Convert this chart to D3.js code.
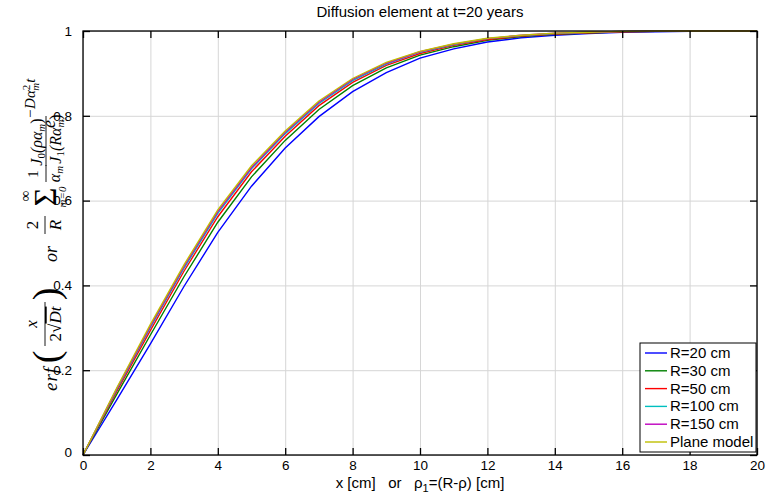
<!DOCTYPE html>
<html>
<head>
<meta charset="utf-8">
<script src="https://cdn.jsdelivr.net/npm/d3@7"></script>
<style>
  body { margin: 0; background: #fff; }
  text { font-family: "Liberation Sans", Arial, sans-serif; }
</style>
</head>
<body>
<div id="container"></div>
<script>
const xValues = [0, 1, 2, 3, 4, 5, 6, 7, 8, 9, 10, 11, 12, 13, 14, 15, 16, 17, 18, 19, 20];
const r20 = [0, 0.130, 0.262, 0.398, 0.525, 0.634, 0.724, 0.798, 0.857, 0.902, 0.936, 0.958, 0.974, 0.984, 0.990, 0.994, 0.997, 0.998, 0.999, 1, 1];
const r30 = [0, 0.143, 0.283, 0.421, 0.549, 0.656, 0.742, 0.815, 0.871, 0.913, 0.943, 0.963, 0.978, 0.987, 0.992, 0.995, 0.998, 0.999, 1, 1, 1];
const r50 = [0, 0.150, 0.294, 0.434, 0.562, 0.668, 0.752, 0.824, 0.879, 0.919, 0.947, 0.966, 0.980, 0.988, 0.993, 0.996, 0.998, 0.999, 1, 1, 1];
const r100 = [0, 0.154, 0.301, 0.441, 0.570, 0.675, 0.758, 0.829, 0.883, 0.922, 0.950, 0.968, 0.982, 0.989, 0.994, 0.997, 0.999, 1, 1, 1, 1];
const r150 = [0, 0.156, 0.304, 0.445, 0.574, 0.678, 0.761, 0.832, 0.886, 0.924, 0.951, 0.969, 0.982, 0.990, 0.995, 0.997, 0.999, 1, 1, 1, 1];
const plane = [0, 0.158, 0.308, 0.449, 0.578, 0.682, 0.764, 0.835, 0.888, 0.926, 0.952, 0.970, 0.983, 0.990, 0.995, 0.997, 0.999, 1, 1, 1, 1];

const seriesNames = ["R=20 cm", "R=30 cm", "R=50 cm", "R=100 cm", "R=150 cm", "Plane model"];
const seriesValues = [r20, r30, r50, r100, r150, plane];
const seriesColors = ["#0000ff", "#008000", "#ff0000", "#00bfbf", "#bf00bf", "#bfbf00"];
const xTicks = [0, 2, 4, 6, 8, 10, 12, 14, 16, 18, 20];
const yTicks = [0, 0.2, 0.4, 0.6, 0.8, 1];

const w = 767, h = 493;
const pLeft = 83, pRight = 757, pTop = 31, pBottom = 455;

const svg = d3.select("#container").append("svg").attr("width", w).attr("height", h);

const xScale = d3.scaleLinear().domain([0, 20]).range([pLeft, pRight]);
const yScale = d3.scaleLinear().domain([0, 1]).range([pBottom, pTop]);

// grid
svg.append("g").attr("transform", `translate(0, ${pBottom})`)
  .call(d3.axisBottom(xScale).tickValues(xTicks).tickSize(-(pBottom - pTop)).tickFormat(""))
  .call(g => g.select(".domain").remove())
  .call(g => g.selectAll("line").attr("stroke", "#d6d6d6"));
svg.append("g").attr("transform", `translate(${pLeft}, 0)`)
  .call(d3.axisLeft(yScale).tickValues(yTicks).tickSize(-(pRight - pLeft)).tickFormat(""))
  .call(g => g.select(".domain").remove())
  .call(g => g.selectAll("line").attr("stroke", "#d6d6d6"));

// curves
const line = d3.line().x((d, i) => xScale(xValues[i])).y(d => yScale(d));
seriesValues.forEach((vals, i) => {
  svg.append("path").datum(vals).attr("d", line).attr("fill", "none")
    .attr("stroke", seriesColors[i]).attr("stroke-width", 1.4);
});

// box + ticks (inward)
svg.append("rect").attr("x", pLeft).attr("y", pTop).attr("width", pRight - pLeft).attr("height", pBottom - pTop)
  .attr("fill", "none").attr("stroke", "#000").attr("stroke-width", 1.3);

const xAxis = svg.append("g").attr("transform", `translate(0, ${pBottom})`)
  .call(d3.axisBottom(xScale).tickValues(xTicks).tickSize(-7).tickPadding(10).tickFormat(d3.format("d")));
const xTop = svg.append("g").attr("transform", `translate(0, ${pTop})`)
  .call(d3.axisTop(xScale).tickValues(xTicks).tickSize(-7).tickFormat(""));
const yAxis = svg.append("g").attr("transform", `translate(${pLeft}, 0)`)
  .call(d3.axisLeft(yScale).tickValues(yTicks).tickSize(-7).tickPadding(11).tickFormat(d => d3.format("")(d)));
const yRight = svg.append("g").attr("transform", `translate(${pRight}, 0)`)
  .call(d3.axisRight(yScale).tickValues(yTicks).tickSize(-7).tickFormat(""));
[xAxis, xTop, yAxis, yRight].forEach(g => {
  g.select(".domain").remove();
  g.selectAll("line").attr("stroke", "#000").attr("stroke-width", 1.3);
  g.selectAll("text").attr("font-family", "Liberation Sans, Arial, sans-serif").attr("font-size", 13.5).attr("fill", "#000");
});
xAxis.selectAll("text").attr("dy", "0.35em");
yAxis.selectAll(".tick").filter(d => d === 0).select("text").attr("dy", "0.1em");

// title
svg.append("text").attr("x", 420).attr("y", 17).attr("text-anchor", "middle").attr("font-size", 15)
  .text("Diffusion element at t=20 years");

// x label, built piece by piece so the subscript sits right
const xlParts = [["x [cm]   or   ρ", 15, 0], ["1", 11, 4], ["=(R-ρ) [cm]", 15, 0]];
const xl = svg.append("g");
let cx = 0;
xlParts.forEach(p => {
  const t = xl.append("text").attr("x", cx).attr("y", 488 + p[2]).attr("font-size", p[1])
    .style("white-space", "pre").text(p[0]);
  cx += t.node().getComputedTextLength();
});
xl.attr("transform", `translate(${420 - cx / 2}, 0)`);

// y label (math), drawn in a rotated group
const ml = svg.append("g").attr("transform", "translate(-9, 400) rotate(-90)");
function mt(str, x, y, size, italic, anchor) {
  return ml.append("text").attr("x", x).attr("y", y).attr("font-size", size)
    .attr("font-style", italic ? "italic" : "normal").attr("text-anchor", anchor || "middle")
    .style("font-family", "'Liberation Serif', 'DejaVu Serif', serif").text(str);
}
function bar(x1, x2, y) {
  ml.append("line").attr("x1", x1).attr("x2", x2).attr("y1", y).attr("y2", y).attr("stroke", "#000").attr("stroke-width", 0.9);
}
mt("erf", 9, 66, 19, true, "start").attr("letter-spacing", 1);
mt("(", 43, 68, 38, false);
mt("x", 76, 46, 17, true);
bar(54, 98, 54);
const den = mt("", 76, 70, 17, false);
den.append("tspan").text("2√");
den.append("tspan").text("Dt").attr("font-style", "italic").attr("text-decoration", "overline");
mt(")", 106, 68, 38, false);
mt("or", 138, 66, 18, true, "start");
mt("2", 175, 47, 17, false);
bar(166, 184, 54);
mt("R", 175, 70, 17, true);
mt("Σ", 203, 65, 32, false);
mt("∞", 204, 39, 15, false);
mt("m=0", 203, 75, 11, true);
mt("1", 226, 47, 15, false);
const am = mt("α", 226, 69, 16, true);
am.append("tspan").text("m").attr("font-size", 11).attr("dy", 3);
bar(218, 235, 55);
const num = mt("J", 258, 51, 16, true);
num.append("tspan").text("0").attr("font-size", 11).attr("font-style", "normal").attr("dy", 3);
num.append("tspan").text("(ρα").attr("dy", -3);
num.append("tspan").text("m").attr("font-size", 11).attr("dy", 3);
num.append("tspan").text(")").attr("dy", -3).attr("font-style", "normal");
bar(234, 284, 55);
const dn = mt("J", 261, 70, 16, true);
dn.append("tspan").text("1").attr("font-size", 11).attr("font-style", "normal").attr("dy", 3);
dn.append("tspan").text("(Rα").attr("dy", -3);
dn.append("tspan").text("m").attr("font-size", 11).attr("dy", 3);
dn.append("tspan").text(")").attr("dy", -3).attr("font-style", "normal");
mt("e", 272, 64, 18, true, "start");
const sup = mt("−Dα", 281, 44, 15, true, "start");
sup.append("tspan").text("2").attr("font-size", 11).attr("font-style", "normal").attr("dy", -5);
sup.append("tspan").text("m").attr("font-size", 11).attr("dx", -6).attr("dy", 9);
sup.append("tspan").text("t").attr("font-size", 15).attr("dy", -4);

// legend
const lg = svg.append("g");
lg.append("rect").attr("x", 640).attr("y", 343).attr("width", 116).attr("height", 109)
  .attr("fill", "#fff").attr("stroke", "#000").attr("stroke-width", 1);
seriesNames.forEach((name, i) => {
  const cy = 353 + i * 17.8;
  lg.append("line").attr("x1", 645).attr("x2", 667).attr("y1", cy).attr("y2", cy)
    .attr("stroke", seriesColors[i]).attr("stroke-width", 1.4);
  lg.append("text").attr("x", 670).attr("y", cy + 5).attr("font-size", 15).text(name);
});
</script>
</body>
</html>
